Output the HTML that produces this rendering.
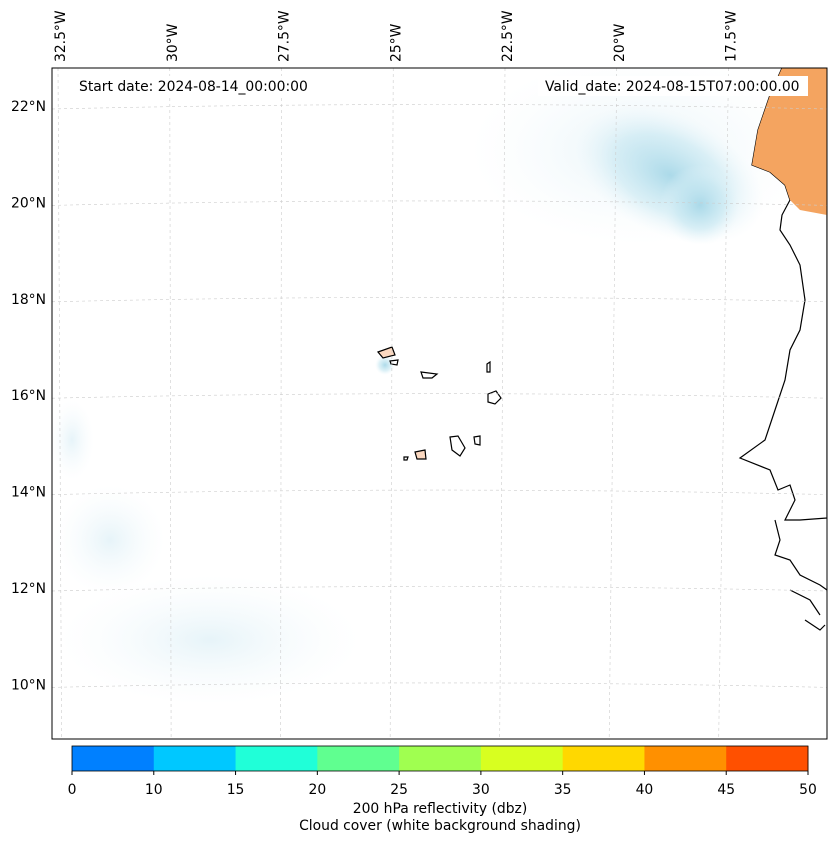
<!DOCTYPE html>
<html><head><meta charset="utf-8"><style>
body{margin:0;background:#fff;font-family:"Liberation Sans","DejaVu Sans",sans-serif}
svg text{font-family:"DejaVu Sans","Liberation Sans",sans-serif;font-size:13.9px;fill:#000}
</style></head><body>
<svg id="c" width="837" height="843" viewBox="0 0 837 843" xmlns="http://www.w3.org/2000/svg">
<defs>
<radialGradient id="cl" cx="0.5" cy="0.5" r="0.5"><stop offset="0" stop-color="#a8d8e8" stop-opacity="0.95"/><stop offset="0.6" stop-color="#c8e8f2" stop-opacity="0.6"/><stop offset="1" stop-color="#e8f5fa" stop-opacity="0"/></radialGradient>
<radialGradient id="cl2" cx="0.5" cy="0.5" r="0.5"><stop offset="0" stop-color="#dceff6" stop-opacity="0.7"/><stop offset="1" stop-color="#f2f9fc" stop-opacity="0"/></radialGradient>
<clipPath id="mc"><rect x="52" y="68" width="775" height="671"/></clipPath>
</defs>
<g id="map" clip-path="url(#mc)">
<ellipse cx="640" cy="150" rx="170" ry="95" fill="url(#cl2)"/>
<ellipse cx="670" cy="175" rx="100" ry="60" fill="url(#cl)" transform="rotate(25 670 175)"/>
<ellipse cx="700" cy="205" rx="40" ry="40" fill="url(#cl)"/>
<ellipse cx="72" cy="440" rx="22" ry="40" fill="url(#cl2)"/>
<ellipse cx="210" cy="640" rx="150" ry="65" fill="url(#cl2)"/>
<ellipse cx="110" cy="540" rx="55" ry="55" fill="url(#cl2)"/>
<ellipse cx="385" cy="365" rx="10" ry="10" fill="url(#cl)"/>
<path d="M782,68 L770,95 L758,130 L752,165 L770,172 L785,185 L790,200 L782,215 L780,230 L790,245 L800,265 L805,300 L800,330 L790,350 L785,380 L775,410 L765,440 L740,458 L770,470 L778,490 L790,485 L795,500 L785,520 L800,520 L827,518 L827,68 Z" fill="#fff" stroke="#000" stroke-width="1.2"/>
<path d="M782,68 L770,95 L758,130 L752,165 L770,172 L785,185 L790,200 L800,210 L827,215 L827,68 Z" fill="#f4a460"/>
<path d="M775,520 L780,540 L775,555 L790,560 L800,575 L820,585 L827,590 M790,590 L810,600 L820,615 M805,620 L820,630 L825,625" fill="none" stroke="#000" stroke-width="1.2"/>
<g fill="#fff" stroke="#000" stroke-width="1.2">
<path d="M378,352 L392,347 L395,355 L383,358 Z" fill="#fbd8c0"/>
<path d="M390,361 L398,360 L397,365 L391,364 Z"/>
<path d="M421,372 L437,374 L432,378 L423,378 Z"/>
<path d="M487,364 L490,362 L490,372 L487,372 Z"/>
<path d="M488,394 L496,391 L501,398 L495,404 L488,402 Z"/>
<path d="M450,437 L458,436 L465,448 L460,456 L452,450 Z"/>
<path d="M474,437 L480,436 L480,445 L475,444 Z"/>
<path d="M415,452 L425,450 L426,459 L417,459 Z" fill="#fbd8c0"/>
<path d="M404,457 L408,457 L407,460 L404,460 Z"/>
</g>
</g>
<g id="grid" stroke="#ccc" stroke-width="0.6" stroke-dasharray="3,3" fill="none"></g>
<rect x="52" y="68" width="775" height="671" fill="none" stroke="#000" stroke-width="1"/>
<rect x="72" y="76" width="243" height="20" fill="#fff"/>
<text x="79" y="91">Start date: 2024-08-14_00:00:00</text>
<rect x="538" y="76" width="270" height="20" fill="#fff"/>
<text x="545" y="91">Valid_date: 2024-08-15T07:00:00.00</text>
<g id="lat"></g>
<g id="lon"></g>
<g id="cb"></g>
<text x="440" y="813" text-anchor="middle">200 hPa reflectivity (dbz)</text>
<text x="440" y="830" text-anchor="middle">Cloud cover (white background shading)</text>
</svg>
<script>
const latTicks=[22,20,18,16,14,12,10];
const lonTicks=[32.5,30,27.5,25,22.5,20,17.5];
const cbBounds=[0,10,15,20,25,30,35,40,45,50];
const cbColors=["#0080ff","#00c8ff","#20ffd8","#60ff90","#a0ff50","#d8ff20","#ffd800","#ff9000","#ff5000"];
const NS="http://www.w3.org/2000/svg";
const yLat=v=>106+(22-v)*48.2;
const xLon=v=>60+(32.5-v)*44.7;
function mk(t,a,p){const e=document.createElementNS(NS,t);for(const k in a)e.setAttribute(k,a[k]);p.appendChild(e);return e;}
const grid=document.getElementById('grid'),lat=document.getElementById('lat'),lon=document.getElementById('lon'),cb=document.getElementById('cb');
latTicks.forEach(v=>{const y=yLat(v);
 const l=mk('path',{d:`M52,${y+3} Q440,${y-6} 827,${y+3}`},grid);
 
 
 const t=mk('text',{x:46,y:y+5,'text-anchor':'end'},lat);t.textContent=v+'°N';
 
 
});
lonTicks.forEach(v=>{const x=xLon(v);
 const l=mk('line',{x1:x-2,y1:68,x2:x-6-(x-440)*0.02,y2:739},grid);
 
 
 const t=mk('text',{transform:`translate(${x+5},62) rotate(-90)`},lon);t.textContent=v+'°W';
 
 
});
const x0=72,x1=808,n=cbColors.length,w=(x1-x0)/n;
cbColors.forEach((c,i)=>{const r=mk('rect',{x:x0+i*w,y:746,width:w+0.5,height:25,fill:c},cb);
 
 });
mk('rect',{x:x0,y:746,width:x1-x0,height:25,fill:'none',stroke:'#000','stroke-width':0.8},cb);
cbBounds.forEach((b,i)=>{const x=x0+i*w;
 mk('line',{x1:x,y1:771,x2:x,y2:775,stroke:'#000'},cb);
 const t=mk('text',{x:x,y:794,'text-anchor':'middle'},cb);t.textContent=b;
 
 });
</script>
</body></html>
